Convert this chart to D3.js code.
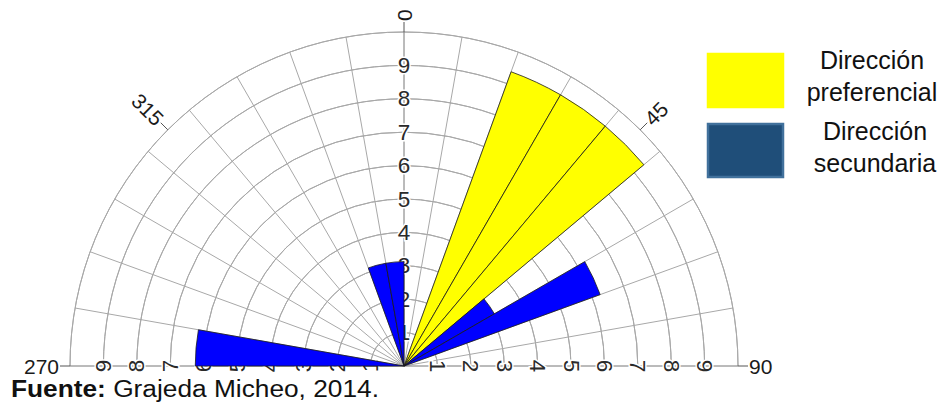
<!DOCTYPE html>
<html>
<head>
<meta charset="utf-8">
<script src="https://cdn.jsdelivr.net/npm/d3@7"></script>
<style>
  html, body { margin: 0; padding: 0; background: #fff; }
  svg { display: block; font-family: "Liberation Sans", Arial, sans-serif; }
</style>
</head>
<body>
<svg id="chart" width="948" height="410"></svg>
<script>
// Rose diagram petals (azimuth bins in degrees, frequency in %)
const petalFrom  = [20, 30, 40, 270, 340, 350, 50, 60];
const petalTo    = [30, 40, 50, 280, 350, 360, 60, 70];
const petalValue = [9.375, 9.375, 9.375, 6.25, 3.125, 3.125, 3.125, 6.25];
const petalGroup = ["pref", "pref", "pref", "sec", "sec", "sec", "sec", "sec"];

// Grid and labels
const ringValues   = [1, 2, 3, 4, 5, 6, 7, 8, 9];
const ringMax      = 10;
const spokeAngles  = d3.range(-90, 91, 10);
const axisAngles   = [0, 90, 270];
const dirLabels    = [0, 45, 90, 270, 315];

// Legend
const legendKeys   = ["pref", "sec"];
const legendLines  = [["Dirección", "preferencial"], ["Dirección", "secundaria"]];
const legendFill   = ["#FFFF00", "#1F4E79"];
const legendStroke = ["#FFFF00", "#41719C"];

const petalColor = { pref: "#FFFF00", sec: "#0000FF" };

const svg = d3.select("#chart");
const cx = 404, cy = 366;
const r = d3.scaleLinear().domain([0, ringMax]).range([0, 334]);
const rad = d => d * Math.PI / 180;

const g = svg.append("g").attr("transform", `translate(${cx},${cy})`);

// Concentric rings (upper half)
const ringArc = d3.arc().innerRadius(d => r(d)).outerRadius(d => r(d))
  .startAngle(rad(-90)).endAngle(rad(90));
g.selectAll("path.ring")
  .data(d3.range(1, ringMax + 1))
  .join("path")
  .attr("class", "ring")
  .attr("d", ringArc)
  .attr("fill", "none")
  .attr("stroke", "#a8a8a8")
  .attr("stroke-width", 1);

// Radial spokes every 10 degrees
g.selectAll("line.spoke")
  .data(spokeAngles)
  .join("line")
  .attr("class", "spoke")
  .attr("x1", 0).attr("y1", 0)
  .attr("x2", d => r(ringMax) * Math.sin(rad(d)))
  .attr("y2", d => -r(ringMax) * Math.cos(rad(d)))
  .attr("stroke", d => (d === 0 || Math.abs(d) === 90) ? "#777" : "#a8a8a8")
  .attr("stroke-width", 1);

// Ticks beyond the outer ring at labelled directions
const tickLen = 10;
g.selectAll("line.dirtick")
  .data(dirLabels)
  .join("line")
  .attr("class", "dirtick")
  .attr("x1", d => r(ringMax) * Math.sin(rad(d)))
  .attr("y1", d => -r(ringMax) * Math.cos(rad(d)))
  .attr("x2", d => (r(ringMax) + tickLen) * Math.sin(rad(d)))
  .attr("y2", d => -(r(ringMax) + tickLen) * Math.cos(rad(d)))
  .attr("stroke", "#555")
  .attr("stroke-width", 1);

// Direction labels written along the radial direction
g.selectAll("text.dir")
  .data(dirLabels)
  .join("text")
  .attr("class", "dir")
  .attr("transform", d => {
    const rr = r(ringMax) + tickLen + 1;
    const x = rr * Math.sin(rad(d)), y = -rr * Math.cos(rad(d));
    const rot = d <= 90 ? d - 90 : d - 270;
    return `translate(${x},${y}) rotate(${rot})`;
  })
  .attr("text-anchor", d => d <= 90 ? "start" : "end")
  .attr("dominant-baseline", "central")
  .attr("font-size", 21)
  .attr("fill", "#1a1a1a")
  .text(d => d);

// Ring value labels along the three axes
const ringLabelData = [];
axisAngles.forEach(a => ringValues.forEach(v => ringLabelData.push({ a, v })));
g.selectAll("text.ringlabel")
  .data(ringLabelData)
  .join("text")
  .attr("class", "ringlabel")
  .attr("transform", d => {
    const x = r(d.v) * Math.sin(rad(d.a)), y = -r(d.v) * Math.cos(rad(d.a));
    const rot = d.a === 0 ? 0 : (d.a === 90 ? 90 : -90);
    return `translate(${x},${y}) rotate(${rot})`;
  })
  .attr("text-anchor", "middle")
  .attr("dominant-baseline", "central")
  .attr("font-size", 22.5)
  .attr("fill", "#2a2a2a")
  .attr("stroke", "#fff")
  .attr("stroke-width", 3)
  .attr("paint-order", "stroke")
  .text(d => d.v);

// Petals
const petalArc = d3.arc()
  .innerRadius(0)
  .outerRadius(i => r(petalValue[i]))
  .startAngle(i => rad(petalFrom[i]))
  .endAngle(i => rad(petalTo[i]));
g.selectAll("path.petal")
  .data(d3.range(petalValue.length))
  .join("path")
  .attr("class", "petal")
  .attr("d", petalArc)
  .attr("fill", i => petalColor[petalGroup[i]])
  .attr("stroke", "#1a1a1a")
  .attr("stroke-width", 0.8)
  .attr("stroke-linejoin", "round");

// Legend
const legend = svg.append("g");
legendKeys.forEach((k, i) => {
  const y0 = 54 + i * 70;
  legend.append("rect")
    .attr("x", 708).attr("y", y0)
    .attr("width", 75).attr("height", 53)
    .attr("fill", legendFill[i])
    .attr("stroke", legendStroke[i])
    .attr("stroke-width", 2.5);
  legendLines[i].forEach((line, j) => {
    legend.append("text")
      .attr("x", 872 + (i === 1 ? 3 : 0))
      .attr("y", 69 + i * 71 + j * 32)
      .attr("text-anchor", "middle")
      .attr("font-size", 25)
      .attr("fill", "#111")
      .text(line);
  });
});

// Source note
const note = svg.append("text")
  .attr("x", 11).attr("y", 397)
  .attr("font-size", 23.5)
  .attr("fill", "#111")
  .attr("textLength", 368)
  .attr("lengthAdjust", "spacingAndGlyphs");
note.append("tspan").attr("font-weight", "bold").text("Fuente:");
note.append("tspan").text(" Grajeda Micheo, 2014.");
</script>
</body>
</html>
